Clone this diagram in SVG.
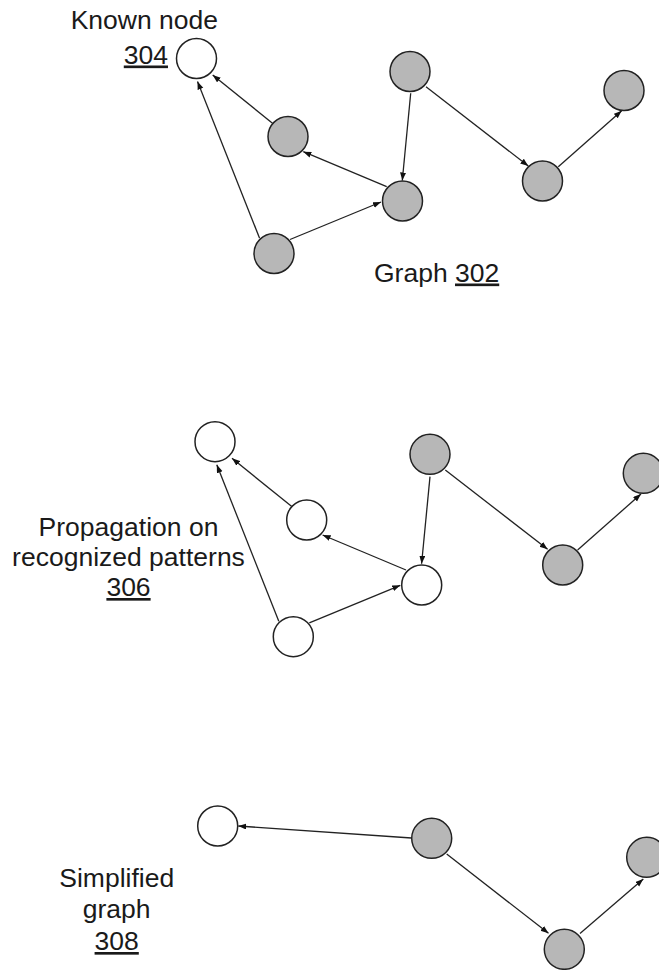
<svg xmlns="http://www.w3.org/2000/svg" width="659" height="970" viewBox="0 0 659 970">
<style>
  .n { stroke:#222; stroke-width:1.5; }
  .g { fill:#b7b7b7; }
  .w { fill:#fff; }
  .e { stroke:#222; stroke-width:1.3; fill:none; marker-end:url(#ah); }
  .t { font-family:"Liberation Sans", Arial, sans-serif; font-size:26.5px; fill:#1a1a1a; }
  .u { text-decoration:underline; }
</style>
<defs>
  <marker id="ah" markerUnits="userSpaceOnUse" markerWidth="9" markerHeight="7" refX="8" refY="3" orient="auto">
    <path d="M0,0 L8,3 L0,6 z" fill="#111"/>
  </marker>
</defs>
<rect width="659" height="970" fill="#fff"/>

<g id="connectors">
  <!-- Graph 302 -->
  <line class="e" x1="272.8" y1="123.5" x2="212.7" y2="75"/>
  <line class="e" x1="259.5" y1="238" x2="197.5" y2="81.5"/>
  <line class="e" x1="386.7" y1="186.7" x2="303.3" y2="151.7"/>
  <line class="e" x1="290" y1="239.5" x2="381" y2="202"/>
  <line class="e" x1="410.7" y1="93.3" x2="402.3" y2="180.5"/>
  <line class="e" x1="426" y1="86.7" x2="528.3" y2="166"/>
  <line class="e" x1="558.3" y1="166.7" x2="621.7" y2="110.7"/>
  <!-- Propagation 306 -->
  <line class="e" x1="292.1" y1="506.8" x2="232" y2="458.3"/>
  <line class="e" x1="278.8" y1="621.3" x2="216.8" y2="464.8"/>
  <line class="e" x1="406" y1="570" x2="322.6" y2="535"/>
  <line class="e" x1="309.3" y1="622.8" x2="400.3" y2="585.3"/>
  <line class="e" x1="430" y1="476.6" x2="421.6" y2="563.8"/>
  <line class="e" x1="445.3" y1="470" x2="547.6" y2="549.3"/>
  <line class="e" x1="577.6" y1="550" x2="641" y2="494"/>
  <!-- Simplified 308 -->
  <line class="e" x1="411.5" y1="838" x2="238.3" y2="826"/>
  <line class="e" x1="446.7" y1="854" x2="548.5" y2="933.3"/>
  <line class="e" x1="580" y1="933.5" x2="643.3" y2="879"/>
</g>

<g id="graph-302">
  <g id="known-node-304"><circle class="n w" cx="196.5" cy="58.5" r="20"/></g>
  <g id="node-a1"><circle class="n g" cx="288" cy="136.5" r="20"/></g>
  <g id="node-b1"><circle class="n g" cx="274" cy="253.5" r="20"/></g>
  <g id="node-c1"><circle class="n g" cx="402.5" cy="201" r="20"/></g>
  <g id="node-d1"><circle class="n g" cx="410" cy="71.5" r="20"/></g>
  <g id="node-e1"><circle class="n g" cx="542.5" cy="181" r="20"/></g>
  <g id="node-f1"><circle class="n g" cx="624" cy="90.5" r="20"/></g>
</g>

<g id="graph-306">
  <g id="node-k2"><circle class="n w" cx="215" cy="441.7" r="20"/></g>
  <g id="node-a2"><circle class="n w" cx="306.7" cy="520" r="20"/></g>
  <g id="node-b2"><circle class="n w" cx="293.3" cy="636.7" r="20"/></g>
  <g id="node-c2"><circle class="n w" cx="421.7" cy="585" r="20"/></g>
  <g id="node-d2"><circle class="n g" cx="430" cy="454.3" r="20"/></g>
  <g id="node-e2"><circle class="n g" cx="562.7" cy="565" r="20"/></g>
  <g id="node-f2"><circle class="n g" cx="643.3" cy="473.3" r="20"/></g>
</g>

<g id="graph-308">
  <g id="node-k3"><circle class="n w" cx="217.7" cy="826" r="20"/></g>
  <g id="node-d3"><circle class="n g" cx="431.7" cy="838.3" r="20"/></g>
  <g id="node-e3"><circle class="n g" cx="564.3" cy="949.3" r="20"/></g>
  <g id="node-f3"><circle class="n g" cx="646.7" cy="857.3" r="20"/></g>
</g>

<g id="labels">
  <text class="t" x="218" y="28.5" text-anchor="end">Known node</text>
  <text class="t u" x="168" y="63.5" text-anchor="end">304</text>
  <text class="t" x="374" y="281.5">Graph <tspan class="u">302</tspan></text>
  <text class="t" x="128.5" y="535.7" text-anchor="middle">Propagation on</text>
  <text class="t" x="128.5" y="565.5" text-anchor="middle">recognized patterns</text>
  <text class="t u" x="128.5" y="596" text-anchor="middle">306</text>
  <text class="t" x="116.7" y="887.3" text-anchor="middle">Simplified</text>
  <text class="t" x="116.7" y="918.3" text-anchor="middle">graph</text>
  <text class="t u" x="116.7" y="950" text-anchor="middle">308</text>
</g>
</svg>
